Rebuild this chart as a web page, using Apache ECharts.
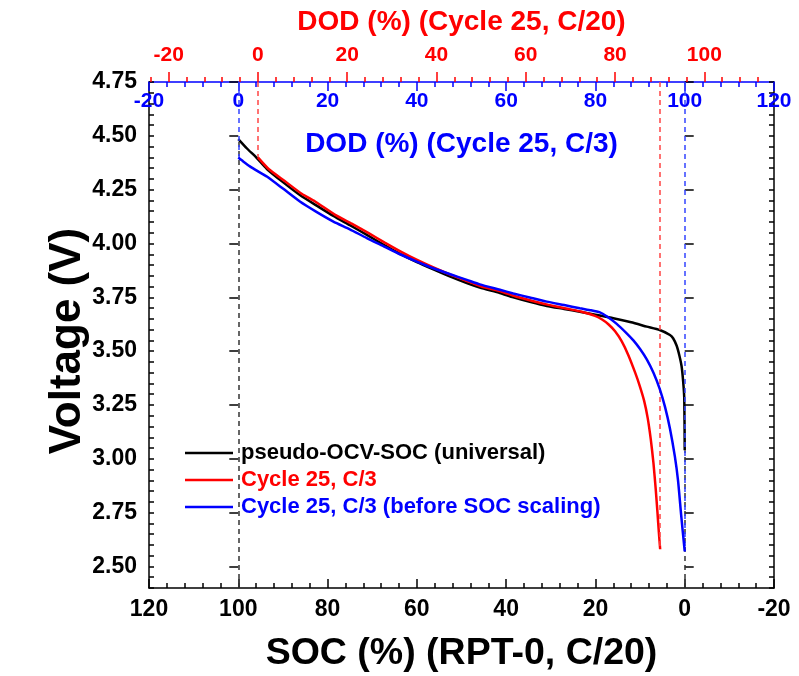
<!DOCTYPE html>
<html>
<head>
<meta charset="utf-8">
<script src="https://cdn.jsdelivr.net/npm/echarts@6/dist/echarts.min.js"></script>
<style>
  html, body { margin: 0; padding: 0; background: #ffffff; }
  #chart { width: 799px; height: 676px; }
</style>
</head>
<body>
<div id="chart"></div>
<script>
// ---- data -------------------------------------------------------------
// pseudo-OCV-SOC (universal), plotted against SOC (RPT-0, C/20)
const ocvSoc = [100, 98, 96, 93.6, 90, 86.2, 82, 78.7, 75, 71.2, 67.5, 63.8, 60, 56.3, 52.5, 48.8, 45.9, 41.4, 38.4, 34.5, 30.9, 27, 23.5, 20, 16, 12, 8.5, 5.6, 3.3, 2.6, 1.8, 1.2, 0.7, 0.35, 0.1, 0];
const ocvVolt = [4.485, 4.44, 4.40, 4.346, 4.285, 4.225, 4.17, 4.128, 4.085, 4.040, 3.995, 3.952, 3.914, 3.880, 3.846, 3.816, 3.795, 3.770, 3.750, 3.728, 3.710, 3.696, 3.683, 3.669, 3.653, 3.634, 3.614, 3.598, 3.575, 3.56, 3.525, 3.48, 3.43, 3.36, 3.28, 3.04];

// Cycle 25, C/3 (after SOC scaling), plotted against DOD (Cycle 25, C/20)
const c3ScaledDod = [0, 2.4, 6, 9.8, 12.8, 17.3, 21, 24.8, 28.5, 32.2, 36, 39.7, 43.5, 47.2, 50.1, 54.6, 57.6, 61.5, 65.1, 69, 72.5, 75.5, 77, 78.5, 80, 81.5, 83, 84.5, 85.5, 86.5, 87.3, 88, 88.6, 89.1, 89.5, 89.8, 90.1];
const c3ScaledVolt = [4.40, 4.346, 4.29, 4.231, 4.195, 4.133, 4.092, 4.048, 4.003, 3.960, 3.920, 3.885, 3.852, 3.823, 3.800, 3.776, 3.755, 3.733, 3.715, 3.698, 3.683, 3.664, 3.648, 3.625, 3.592, 3.545, 3.48, 3.40, 3.34, 3.27, 3.19, 3.09, 2.98, 2.86, 2.75, 2.66, 2.58];

// Cycle 25, C/3 (before SOC scaling), plotted against DOD (Cycle 25, C/3)
const c3RawDod = [0, 1.1, 2.6, 4.5, 6.4, 10, 13.8, 17.5, 21.3, 25, 28.8, 32.5, 36.2, 40, 43.7, 47.5, 51.2, 54.1, 58.6, 61.6, 65.5, 69.1, 73, 76.5, 79, 81, 82.5, 84.7, 87, 88.5, 90, 91.5, 93, 94.4, 95.6, 96.7, 97.8, 98.5, 99.2, 100];
const c3RawVolt = [4.399, 4.381, 4.358, 4.334, 4.311, 4.255, 4.195, 4.147, 4.102, 4.066, 4.025, 3.988, 3.950, 3.916, 3.885, 3.857, 3.831, 3.810, 3.785, 3.768, 3.748, 3.730, 3.714, 3.699, 3.69, 3.68, 3.662, 3.628, 3.583, 3.55, 3.51, 3.462, 3.40, 3.325, 3.24, 3.14, 3.01, 2.90, 2.74, 2.57];

// axis ticks
const voltageTicks = [2.5, 2.75, 3.0, 3.25, 3.5, 3.75, 4.0, 4.25, 4.5, 4.75];
const dodC20Ticks = [-20, 0, 20, 40, 60, 80, 100];
const dodC20MinorTicks = [-24, -20, -16, -12, -8, -4, 0, 4, 8, 12, 16, 20, 24, 28, 32, 36, 40, 44, 48, 52, 56, 60, 64, 68, 72, 76, 80, 84, 88, 92, 96, 100, 104, 108, 112];

const seriesNames = ['pseudo-OCV-SOC (universal)', 'Cycle 25, C/3', 'Cycle 25, C/3 (before SOC scaling)'];
const seriesColors = ['#000000', '#ff0000', '#0000ff'];

// ---- helpers ------------------------------------------------------------
const FONT = '"Liberation Sans", Arial, Helvetica, sans-serif';
const zip = (xs, ys) => xs.map((x, i) => [x, ys[i]]);
const last = a => a[a.length - 1];

const V_MIN = 2.4, V_MAX = 4.75;
// the C/20 DOD axis is shifted 4.4 % against the C/3 DOD axis
const C20_MIN = -24.4, C20_MAX = 115.6;

const tickLabel = (color, size) => ({ color, fontFamily: FONT, fontWeight: 'bold', fontSize: size });

const dashed = (color, pts) => ({
  silent: true,
  symbol: 'none',
  label: { show: false },
  lineStyle: { color, type: [5, 4], width: 1.5 },
  data: pts
});

const chart = echarts.init(document.getElementById('chart'), null, { renderer: 'canvas' });

const option = {
  backgroundColor: '#ffffff',
  animation: false,
  grid: { left: 149, top: 82, width: 625, height: 506, outerBoundsMode: 'none' },
  legend: {
    orient: 'vertical',
    left: 180,
    top: 437,
    padding: 5,
    itemWidth: 48,
    itemHeight: 12,
    itemGap: 5,
    icon: 'path://M0,0 L48,0 L48,2.5 L0,2.5 Z',
    data: seriesNames.map((n, i) => ({ name: n, itemStyle: { color: seriesColors[i] }, textStyle: { color: seriesColors[i] } })),
    textStyle: { fontFamily: FONT, fontWeight: 'bold', fontSize: 22, padding: [0, 0, 0, 3] }
  },
  xAxis: [
    { // SOC (%) (RPT-0, C/20)
      type: 'value', position: 'bottom', min: -20, max: 120, interval: 20, inverse: true,
      name: 'SOC (%) (RPT-0, C/20)', nameLocation: 'middle', nameGap: 47, nameMoveOverlap: false,
      nameTextStyle: { fontFamily: FONT, fontWeight: 'bold', fontSize: 37.5, color: '#000' },
      axisLine: { show: true, onZero: false, lineStyle: { color: '#000', width: 1.5 } },
      axisTick: { show: true, inside: true, length: 9, lineStyle: { color: '#000', width: 1.5 } },
      minorTick: { show: true, splitNumber: 5, length: 5, lineStyle: { color: '#000', width: 1.5 } },
      axisLabel: Object.assign(tickLabel('#000', 23), { margin: 10, showMinLabel: true, showMaxLabel: true }),
      splitLine: { show: false }
    },
    { // DOD (%) (Cycle 25, C/3)
      type: 'value', position: 'top', min: -20, max: 120, interval: 20,
      name: 'DOD (%) (Cycle 25, C/3)', nameLocation: 'middle', nameGap: -76, nameMoveOverlap: false,
      nameTextStyle: { fontFamily: FONT, fontWeight: 'bold', fontSize: 28, color: '#0000ff' },
      axisLine: { show: true, onZero: false, lineStyle: { color: '#0000ff', width: 1.5 } },
      axisTick: { show: true, inside: true, length: 9, lineStyle: { color: '#0000ff', width: 1.5 } },
      minorTick: { show: true, splitNumber: 5, length: 5, lineStyle: { color: '#0000ff', width: 1.5 } },
      axisLabel: Object.assign(tickLabel('#0000ff', 21), { inside: true, margin: 9, showMinLabel: true, showMaxLabel: true }),
      splitLine: { show: false }
    },
    { // DOD (%) (Cycle 25, C/20): labels and major ticks
      type: 'value', position: 'top', min: C20_MIN, max: C20_MAX,
      name: 'DOD (%) (Cycle 25, C/20)', nameLocation: 'middle', nameGap: 46, nameMoveOverlap: false,
      nameTextStyle: { fontFamily: FONT, fontWeight: 'bold', fontSize: 28, color: '#ff0000' },
      axisLine: { show: false },
      axisTick: { show: true, inside: false, length: 10, customValues: dodC20Ticks, lineStyle: { color: '#ff0000', width: 1.5 } },
      axisLabel: Object.assign(tickLabel('#ff0000', 21), { margin: 16, customValues: dodC20Ticks }),
      splitLine: { show: false }
    },
    { // DOD (%) (Cycle 25, C/20): minor ticks
      type: 'value', position: 'top', min: C20_MIN, max: C20_MAX,
      axisLine: { show: false },
      axisTick: { show: true, inside: false, length: 5, customValues: dodC20MinorTicks, lineStyle: { color: '#ff0000', width: 1.5 } },
      axisLabel: { show: false },
      splitLine: { show: false }
    }
  ],
  yAxis: [
    { // Voltage (V): labels and minor ticks
      type: 'value', position: 'left', min: V_MIN, max: V_MAX, interval: 0.05,
      name: 'Voltage (V)', nameLocation: 'middle', nameGap: 59, nameMoveOverlap: false,
      nameTextStyle: { fontFamily: FONT, fontWeight: 'bold', fontSize: 44, color: '#000', padding: [0, 12, 0, 0] },
      axisLine: { show: true, onZero: false, lineStyle: { color: '#000', width: 1.5 } },
      axisTick: { show: true, inside: true, length: 5, lineStyle: { color: '#000', width: 1.5 } },
      axisLabel: Object.assign(tickLabel('#000', 23), { margin: 12, customValues: voltageTicks, formatter: v => v.toFixed(2) }),
      splitLine: { show: false }
    },
    { // left major ticks
      type: 'value', position: 'left', min: V_MIN, max: V_MAX,
      axisLine: { show: false },
      axisTick: { show: true, inside: true, length: 9, customValues: voltageTicks, lineStyle: { color: '#000', width: 1.5 } },
      axisLabel: { show: false },
      splitLine: { show: false }
    },
    { // right mirror axis, minor ticks
      type: 'value', position: 'right', min: V_MIN, max: V_MAX, interval: 0.05,
      axisLine: { show: true, onZero: false, lineStyle: { color: '#000', width: 1.5 } },
      axisTick: { show: true, inside: true, length: 5, lineStyle: { color: '#000', width: 1.5 } },
      axisLabel: { show: false },
      splitLine: { show: false }
    },
    { // right major ticks
      type: 'value', position: 'right', min: V_MIN, max: V_MAX,
      axisLine: { show: false },
      axisTick: { show: true, inside: true, length: 9, customValues: voltageTicks, lineStyle: { color: '#000', width: 1.5 } },
      axisLabel: { show: false },
      splitLine: { show: false }
    }
  ],
  series: [
    {
      name: seriesNames[0], type: 'line', xAxisIndex: 0, yAxisIndex: 0,
      data: zip(ocvSoc, ocvVolt), showSymbol: false, symbol: 'none', smooth: 0.2,
      lineStyle: { color: seriesColors[0], width: 2.5 }, itemStyle: { color: seriesColors[0] }, z: 3,
      markLine: dashed('#333333', [
        [{ coord: [ocvSoc[0], V_MIN] }, { coord: [ocvSoc[0], ocvVolt[0]] }],
        [{ coord: [last(ocvSoc), V_MIN] }, { coord: [last(ocvSoc), last(ocvVolt)] }]
      ])
    },
    {
      name: seriesNames[1], type: 'line', xAxisIndex: 2, yAxisIndex: 0,
      data: zip(c3ScaledDod, c3ScaledVolt), showSymbol: false, symbol: 'none', smooth: 0.2,
      lineStyle: { color: seriesColors[1], width: 2.5 }, itemStyle: { color: seriesColors[1] }, z: 4,
      markLine: dashed('#ff4444', [
        [{ coord: [c3ScaledDod[0], V_MAX] }, { coord: [c3ScaledDod[0], c3ScaledVolt[0]] }],
        [{ coord: [last(c3ScaledDod), V_MAX] }, { coord: [last(c3ScaledDod), last(c3ScaledVolt)] }]
      ])
    },
    {
      name: seriesNames[2], type: 'line', xAxisIndex: 1, yAxisIndex: 0,
      data: zip(c3RawDod, c3RawVolt), showSymbol: false, symbol: 'none', smooth: 0.2,
      lineStyle: { color: seriesColors[2], width: 2.5 }, itemStyle: { color: seriesColors[2] }, z: 5,
      markLine: dashed('#3344ff', [
        [{ coord: [c3RawDod[0], V_MAX] }, { coord: [c3RawDod[0], c3RawVolt[0]] }],
        [{ coord: [last(c3RawDod), V_MAX] }, { coord: [last(c3RawDod), last(c3RawVolt)] }]
      ])
    }
  ]
};

chart.setOption(option);
</script>
</body>
</html>
